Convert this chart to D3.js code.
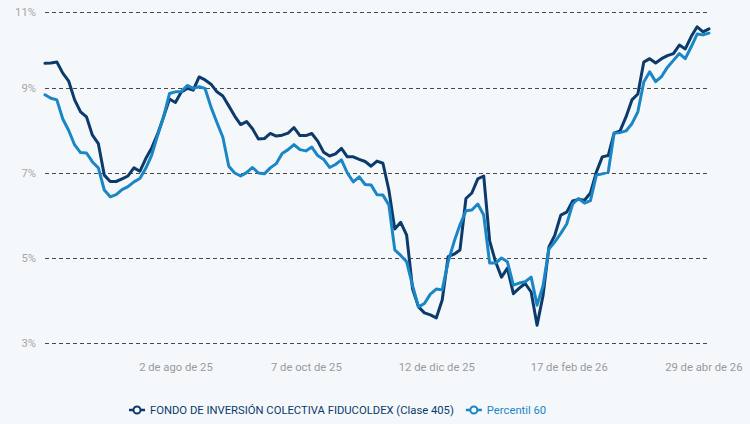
<!DOCTYPE html>
<html>
<head>
<meta charset="utf-8">
<script src="https://cdn.jsdelivr.net/npm/d3@7"></script>
<style>
  html, body { margin: 0; padding: 0; background: #f5f8fb; }
  svg { display: block; font-family: Roboto, "Noto Sans", sans-serif; }
</style>
</head>
<body>
<svg id="chart" width="750" height="424"></svg>
<script>
// ---- data ----
const startDate = "2025-05-28";
const stepDays = 3;
const seriesNames = ["FONDO DE INVERSIÓN COLECTIVA FIDUCOLDEX (Clase 405)", "Percentil 60"];
const fondo = [
  9.58, 9.59, 9.61, 9.35, 9.16, 8.72, 8.44, 8.32, 7.89, 7.69,
  6.95, 6.80, 6.80, 6.86, 6.93, 7.12, 7.04, 7.34, 7.59, 7.92,
  8.32, 8.74, 8.66, 8.91, 8.99, 8.95, 9.26, 9.19, 9.09, 8.91,
  8.81, 8.58, 8.34, 8.14, 8.21, 8.04, 7.80, 7.81, 7.93, 7.87,
  7.89, 7.94, 8.07, 7.88, 7.88, 7.93, 7.75, 7.49, 7.40, 7.45,
  7.58, 7.38, 7.38, 7.32, 7.27, 7.16, 7.28, 7.23, 6.60, 5.68,
  5.84, 5.54, 4.27, 3.85, 3.71, 3.66, 3.59, 4.01, 5.03, 5.09,
  5.19, 6.40, 6.53, 6.86, 6.93, 5.40, 4.91, 4.55, 4.76, 4.16,
  4.29, 4.40, 4.20, 3.42, 4.11, 5.26, 5.54, 6.01, 6.08, 6.34,
  6.38, 6.36, 6.53, 7.02, 7.38, 7.41, 7.94, 7.99, 8.32, 8.72,
  8.86, 9.61, 9.69, 9.59, 9.69, 9.76, 9.81, 10.01, 9.92, 10.21,
  10.44, 10.32, 10.39
];
const percentil = [
  8.84, 8.76, 8.72, 8.27, 8.00, 7.66, 7.48, 7.47, 7.26, 7.12,
  6.60, 6.44, 6.49, 6.61, 6.68, 6.79, 6.87, 7.11, 7.42, 7.89,
  8.32, 8.87, 8.91, 8.92, 9.06, 8.99, 9.03, 8.99, 8.55, 8.19,
  7.84, 7.16, 7.00, 6.93, 7.01, 7.13, 7.00, 6.98, 7.12, 7.22,
  7.46, 7.55, 7.67, 7.55, 7.52, 7.61, 7.41, 7.32, 7.13, 7.20,
  7.31, 7.00, 6.79, 6.91, 6.73, 6.72, 6.49, 6.48, 6.25, 5.19,
  5.06, 4.91, 4.35, 3.85, 3.93, 4.15, 4.27, 4.25, 4.91, 5.38,
  5.78, 6.11, 6.13, 6.27, 6.01, 4.88, 4.88, 5.00, 4.91, 4.36,
  4.41, 4.44, 4.55, 3.89, 4.34, 5.21, 5.38, 5.58, 5.80, 6.27,
  6.40, 6.29, 6.35, 6.95, 6.98, 7.02, 7.94, 7.95, 7.99, 8.16,
  8.44, 9.14, 9.38, 9.15, 9.27, 9.49, 9.65, 9.81, 9.69, 9.97,
  10.27, 10.25, 10.29
];
const xTickDates = ["2025-08-02", "2025-10-07", "2025-12-12", "2026-02-17", "2026-04-29"];
const xTickLabels = ["2 de ago de 25", "7 de oct de 25", "12 de dic de 25", "17 de feb de 26", "29 de abr de 26"];
const yTickValues = [3, 5, 7, 9, 10.8];
const yTickLabels = ["3%", "5%", "7%", "9%", "11%"];
const yDomain = [3, 10.8];

// ---- setup ----
const colors = ["#0c3a6b", "#1a86c6"];
const fontSize = "11.25px";
const parse = d3.utcParse("%Y-%m-%d");
const t0 = parse(startDate);
const dates = fondo.map((_, i) => d3.utcDay.offset(t0, i * stepDays));
const svg = d3.select("#chart");

const x = d3.scaleUtc().domain([dates[0], dates[dates.length - 1]]).range([45, 709]);
const y = d3.scaleLinear().domain(yDomain).range([343, 11.5]);

// grid
const grid = svg.append("g");
grid.selectAll("line").data(yTickValues).join("line")
  .attr("x1", 45).attr("x2", 707)
  .attr("y1", d => Math.round(y(d)) + 0.5).attr("y2", d => Math.round(y(d)) + 0.5)
  .attr("stroke", "#4a4a4a").attr("stroke-width", 1)
  .attr("stroke-dasharray", "4,3");

// y axis
const yAxis = d3.axisLeft(y).tickValues(yTickValues)
  .tickFormat((d, i) => yTickLabels[i]).tickSize(0).tickPadding(0);
const gy = svg.append("g").attr("transform", "translate(36,0)").call(yAxis);
gy.select(".domain").remove();
gy.selectAll("text").attr("fill", "#a6a6a6").style("font-size", fontSize).style("font-family", "Roboto");

// x axis
const xAxis = d3.axisBottom(x).tickValues(xTickDates.map(parse))
  .tickFormat((d, i) => xTickLabels[i]).tickSize(0).tickPadding(0);
const gx = svg.append("g").attr("transform", "translate(0,363)").call(xAxis);
gx.select(".domain").remove();
gx.selectAll("text").attr("fill", "#9a9a9a").style("font-size", fontSize).style("font-family", "Roboto");
// keep last label inside chart
gx.selectAll(".tick").filter((d, i) => i === xTickDates.length - 1)
  .select("text").attr("text-anchor", "end").attr("dx", "33");

// lines
const line = d3.line().x((d, i) => x(dates[i])).y(d => y(d)).curve(d3.curveLinear);
[fondo, percentil].forEach((s, k) => {
  svg.append("path").datum(s)
    .attr("fill", "none").attr("stroke", colors[k])
    .attr("stroke-width", 3).attr("stroke-linejoin", "round").attr("stroke-linecap", "round")
    .attr("d", line);
});

// legend
const legend = svg.append("g").attr("transform", "translate(129,410)");
let lx = 0;
seriesNames.forEach((name, k) => {
  const g = legend.append("g").attr("transform", `translate(${lx},0)`);
  g.append("line").attr("x1", 0).attr("x2", 16).attr("y1", 0).attr("y2", 0)
    .attr("stroke", colors[k]).attr("stroke-width", 2.5);
  g.append("circle").attr("cx", 8).attr("cy", 0).attr("r", 3.5)
    .attr("fill", "#fff").attr("stroke", colors[k]).attr("stroke-width", 2);
  const t = g.append("text").attr("x", 21).attr("y", 4.2)
    .attr("fill", colors[k]).style("font-size", fontSize).style("font-family", "Roboto")
    .text(name);
  lx += 21 + t.node().getComputedTextLength() + 12;
});
</script>
</body>
</html>
